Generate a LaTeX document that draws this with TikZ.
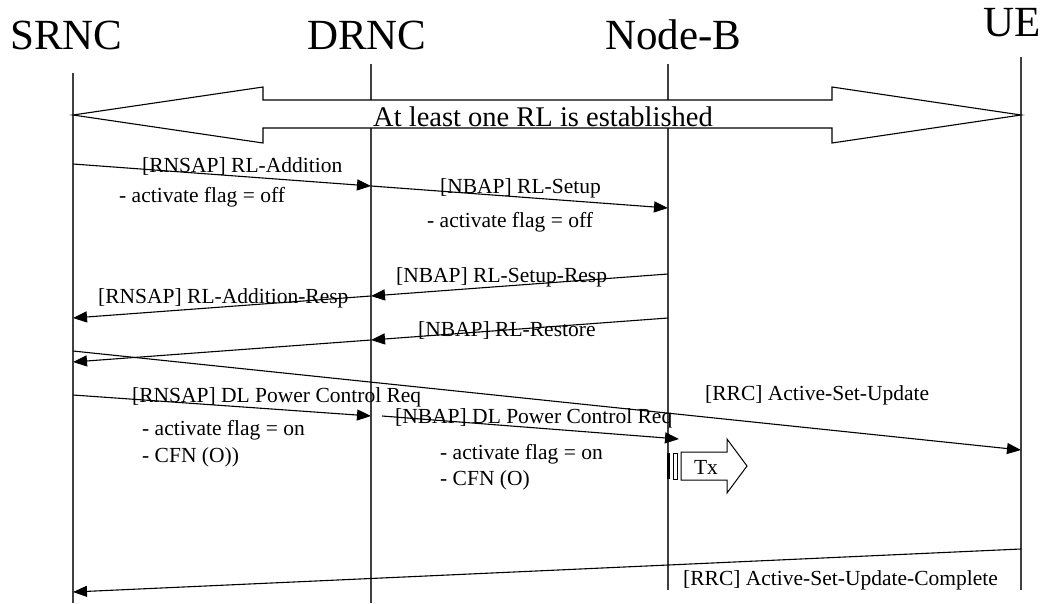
\documentclass[tikz,border=0pt]{standalone}
\usepackage{fontspec}
\setmainfont{Liberation Serif}
\usetikzlibrary{arrows.meta}

\begin{document}
\begin{tikzpicture}[x=1pt,y=-1pt,
                lifeline/.style={line width=1.2pt,draw=black!75},
                msg/.style={line width=1.1pt,-{Triangle[length=14pt,width=11pt]}},
                lbl/.style={anchor=base west,inner sep=0pt,font=\fontsize{21.5}{24}\selectfont},
                head/.style={anchor=base west,inner sep=0pt,font=\fontsize{43}{48}\selectfont}]
                \useasboundingbox (0,0) rectangle (1045,603);
                \node[head] (srnc) at (10,49) {SRNC};
                \node[head] (drnc) at (307,49) {DRNC};
                \node[head] (nodeb) at (605,49) {Node-B};
                \node[head] (ue) at (983,36) {UE};
                \coordinate (srnc top) at (73,73);   \coordinate (srnc bot) at (73,603);
                \coordinate (drnc top) at (371,64);  \coordinate (drnc bot) at (371,603);
                \coordinate (nodeb top) at (668,64); \coordinate (nodeb bot) at (668,590);
                \coordinate (ue top) at (1021,57);   \coordinate (ue bot) at (1021,590);
                \foreach \l in {srnc,drnc,nodeb,ue}
                    \draw[lifeline] (\l\space top) -- (\l\space bot);
                \draw[line width=1.1pt,fill=white] (73,115) -- (263,87) -- (263,100) -- (832,100) -- (832,87)
                    -- (1021,115) -- (832,143) -- (832,128) -- (263,128) -- (263,143) -- cycle;
                \node[anchor=base west,inner sep=0pt,font=\fontsize{28.5}{32}\selectfont] (rl) at (373,126) {At least one RL is established};
                \coordinate (s1) at (73,164);  \coordinate (d1) at (371,186);  \coordinate (n1) at (668,208);
                \coordinate (n2) at (668,274); \coordinate (d2) at (371,296);  \coordinate (s2) at (73,318);
                \coordinate (n3) at (668,318); \coordinate (d3) at (371,340);  \coordinate (s3) at (73,362);
                \coordinate (s4) at (73,351);  \coordinate (u4) at (1021,450);
                \coordinate (s5) at (73,395);  \coordinate (d5) at (371,416);
                \coordinate (d6) at (382,416); \coordinate (n6) at (679,439);
                \coordinate (u7) at (1021,549); \coordinate (s7) at (73,592);
                \draw[msg] (s1) -- (d1);
                \draw[msg] (d1) -- (n1);
                \draw[msg] (n2) -- (d2);
                \draw[msg] (d2) -- (s2);
                \draw[msg] (n3) -- (d3);
                \draw[msg] (d3) -- (s3);
                \draw[msg] (s4) -- (u4);
                \draw[msg] (s5) -- (d5);
                \draw[msg] (d6) -- (n6);
                \draw[msg] (u7) -- (s7);
                \node[lbl] (l1) at (142,172) {[RNSAP] RL-Addition};
                \node[lbl] (l1a) at (119,202) {- activate flag = off};
                \node[lbl] (l2) at (440,193) {[NBAP] RL-Setup};
                \node[lbl] (l2a) at (427,227) {- activate flag = off};
                \node[lbl] (l3) at (396,282) {[NBAP] RL-Setup-Resp};
                \node[lbl] (l4) at (98,303) {[RNSAP] RL-Addition-Resp};
                \node[lbl] (l5) at (418,336) {[NBAP] RL-Restore};
                \node[lbl] (l6) at (705,400) {[RRC] Active-Set-Update};
                \node[lbl] (l7) at (132,402) {[RNSAP] DL Power Control Req};
                \node[lbl] (l7a) at (142,435) {- activate flag = on};
                \node[lbl] (l7b) at (142,462) {- CFN (O))};
                \node[lbl] (l8) at (395,423) {[NBAP] DL Power Control Req};
                \node[lbl] (l8a) at (440,459) {- activate flag = on};
                \node[lbl] (l8b) at (440,485) {- CFN (O)};
                \node[lbl] (l9) at (683,585) {[RRC] Active-Set-Update-Complete};
                \fill (666.5,453) rectangle (670,479);
                \draw[line width=1pt] (673,453) rectangle (677,479);
                \draw[line width=1pt,fill=white] (681,452) -- (727,452) -- (727,439) -- (747,466)
                    -- (727,493) -- (727,480) -- (681,480) -- cycle;
                \node[font=\fontsize{21.5}{24}\selectfont,inner sep=0pt] (tx) at (706,467) {Tx};
            \end{tikzpicture}
\end{document}
